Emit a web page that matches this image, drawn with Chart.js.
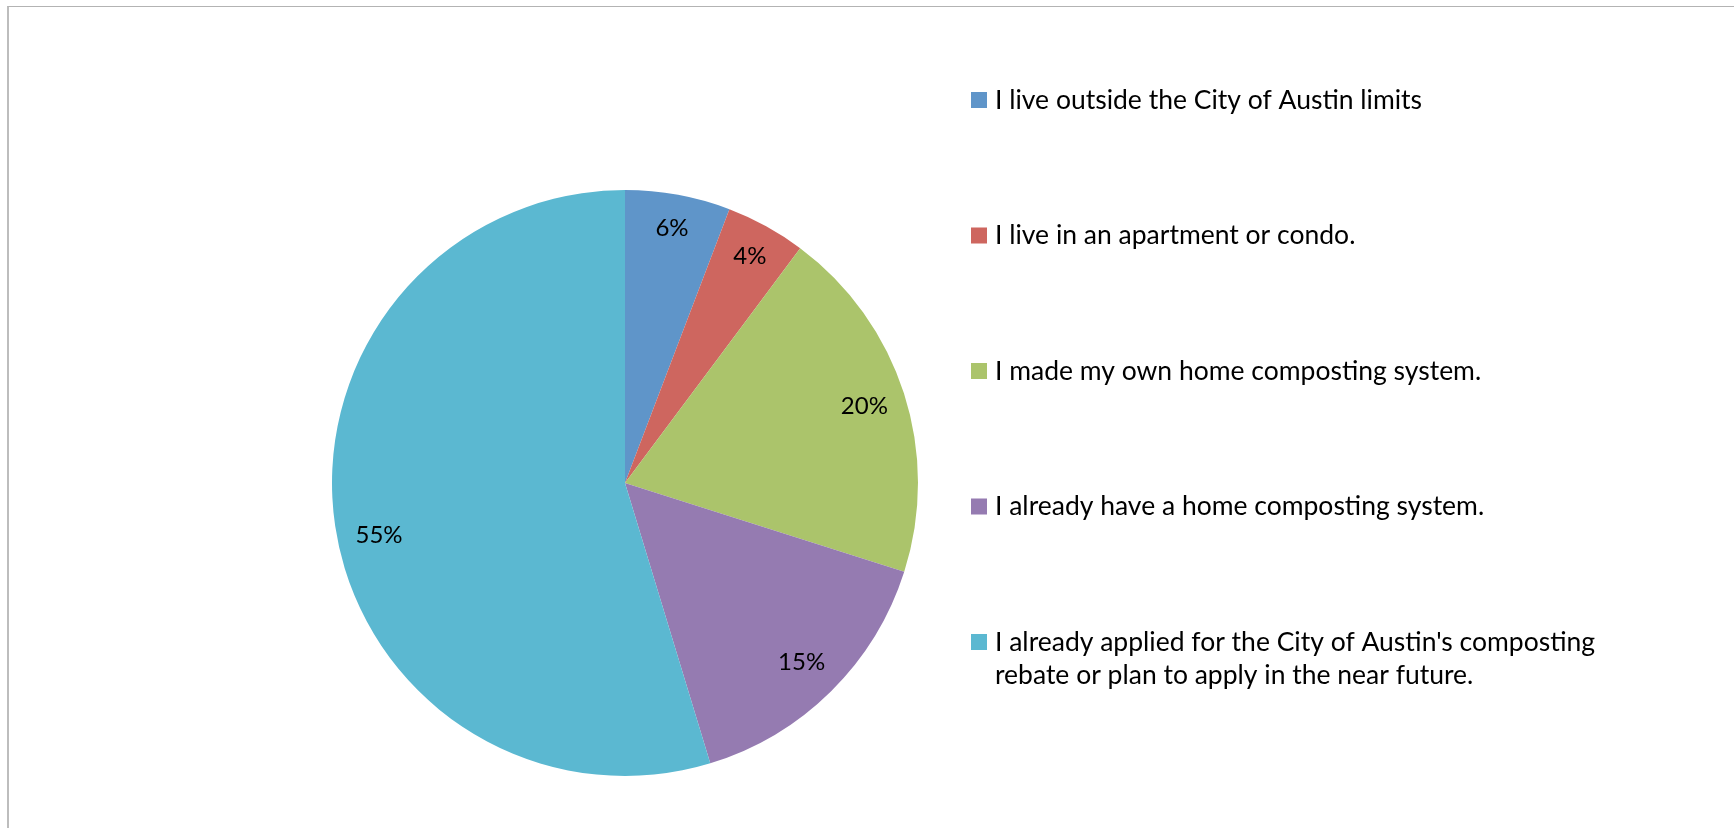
<!DOCTYPE html>
<html>
<head>
<meta charset="utf-8">
<script src="https://cdn.jsdelivr.net/npm/chart.js@4.4.1/dist/chart.umd.min.js"></script>
<style>
  html, body { margin: 0; padding: 0; background: #ffffff; }
  #wrap { position: relative; width: 1734px; height: 828px; overflow: hidden; }
  #frame { position: absolute; left: 7px; top: 6px; width: 1740px; height: 840px;
           border-top: 1px solid #b3b3b3; border-left: 2px solid #bdbdbd; box-sizing: border-box; pointer-events: none; }
  canvas { position: absolute; left: 0; top: 0; }
</style>
</head>
<body>
<div id="wrap">
  <canvas id="c" width="1734" height="828"></canvas>
  <div id="frame"></div>
</div>
<script>
const categories = [
  "I live outside the City of Austin limits",
  "I live in an apartment or condo.",
  "I made my own home composting system.",
  "I already have a home composting system.",
  "I already applied for the City of Austin's composting rebate or plan to apply in the near future."
];
const values = [5.8, 4.4, 19.7, 15.4, 54.7];
const colors = ["#5F95C9", "#CE665F", "#ABC46B", "#957BB1", "#5BB8D1"];

const FONT = "Lato, 'Open Sans', sans-serif";
const LABEL_SIZE = 24;
const LEGEND_SIZE = 26.5;

const pieLabels = {
  id: 'pieLabels',
  afterDatasetsDraw(chart) {
    const ctx = chart.ctx;
    const meta = chart.getDatasetMeta(0);
    const data = chart.data.datasets[0].data;
    const total = data.reduce((a, b) => a + b, 0);
    ctx.save();
    ctx.font = LABEL_SIZE + "px " + FONT;
    ctx.fillStyle = "#000";
    ctx.textAlign = "center";
    ctx.textBaseline = "middle";
    meta.data.forEach((arc, i) => {
      const p = arc.getProps(['x', 'y', 'startAngle', 'endAngle', 'outerRadius'], true);
      const share = data[i] / total;
      let mid = (p.startAngle + p.endAngle) / 2;
      if (share > 0.5) mid -= 0.06;
      const frac = share < 0.1 ? 0.885 : 0.858;
      const r = p.outerRadius * frac;
      const tx = p.x + Math.cos(mid) * r;
      const ty = p.y + Math.sin(mid) * r;
      ctx.fillText(Math.round(share * 100) + "%", tx, ty);
    });
    ctx.restore();
  }
};

function wrapText(ctx, text, maxW) {
  const words = text.split(" ");
  const lines = [];
  let cur = "";
  words.forEach(w => {
    const t = cur ? cur + " " + w : w;
    if (ctx.measureText(t).width > maxW && cur) { lines.push(cur); cur = w; }
    else cur = t;
  });
  if (cur) lines.push(cur);
  return lines;
}

const sideLegend = {
  id: 'sideLegend',
  afterDraw(chart) {
    const ctx = chart.ctx;
    const labels = chart.data.labels;
    const bg = chart.data.datasets[0].backgroundColor;
    ctx.save();
    ctx.font = LEGEND_SIZE + "px " + FONT;
    ctx.textBaseline = "middle";
    ctx.textAlign = "left";
    const boxX = 971, boxS = 16, textX = 995;
    let y = 100;
    const step = 135.5, lineH = 33;
    labels.forEach((lab, i) => {
      ctx.fillStyle = bg[i];
      ctx.fillRect(boxX, y - boxS / 2, boxS, boxS);
      ctx.fillStyle = "#000";
      const lines = wrapText(ctx, lab, 680);
      lines.forEach((ln, k) => ctx.fillText(ln, textX, y + k * lineH));
      y += step;
    });
    ctx.restore();
  }
};

new Chart(document.getElementById('c'), {
  type: 'pie',
  data: {
    labels: categories,
    datasets: [{
      data: values,
      backgroundColor: colors,
      borderWidth: 0
    }]
  },
  options: {
    responsive: false,
    animation: false,
    layout: { padding: { left: 332, right: 816, top: 190, bottom: 52 } },
    plugins: {
      legend: { display: false },
      tooltip: { enabled: false }
    }
  },
  plugins: [pieLabels, sideLegend]
});
</script>
</body>
</html>
